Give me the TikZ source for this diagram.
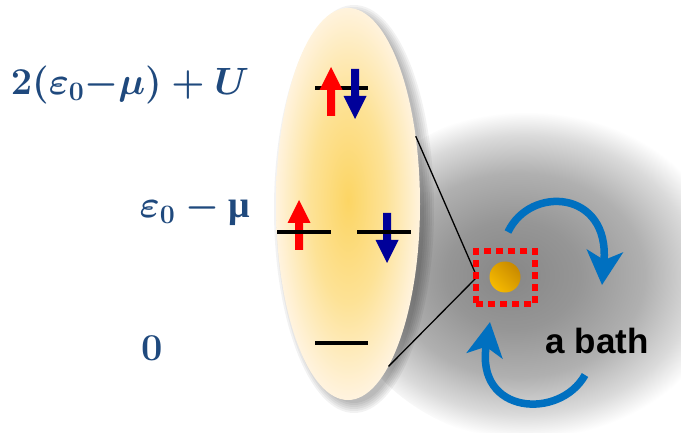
\RequirePackage{fix-cm}
\documentclass[tikz,border=0pt]{standalone}
\usepackage{fontspec}
\setsansfont{Liberation Sans}
\newfontfamily\grfont{Liberation Serif}
\usetikzlibrary{shapes.geometric,arrows.meta}
\definecolor{lbl}{RGB}{31,73,125}
\definecolor{upred}{RGB}{255,0,0}
\definecolor{dnblue}{RGB}{0,0,153}
\definecolor{arcblue}{RGB}{0,112,192}
\definecolor{yc}{RGB}{252,213,100}
\definecolor{ym}{RGB}{253,226,150}
\definecolor{ye}{RGB}{255,243,222}
\definecolor{g0}{RGB}{134,134,134}
\definecolor{g1}{RGB}{150,150,150}
\definecolor{g2}{RGB}{176,176,176}
\definecolor{g3}{RGB}{218,218,218}
\definecolor{ballD}{RGB}{200,138,0}
\definecolor{ballL}{RGB}{246,186,0}
\pgfdeclareradialshading{dotshade}{\pgfpoint{0bp}{0.5bp}}{color(0bp)=(yc); color(13bp)=(ym); color(25bp)=(ye); color(50bp)=(ye)}
\pgfdeclareradialshading{bathshade}{\pgfpoint{-5bp}{0bp}}{color(0bp)=(g0); color(8bp)=(g1); color(15bp)=(g2); color(20.5bp)=(g3); color(24bp)=(white); color(50bp)=(white)}
\newcommand\spinarrow[5]{% color, x, tail, base, tip
  \fill[#1] ({#2-4},#3) -- ({#2-4},#4) -- ({#2-11.5},#4) -- (#2,#5) -- ({#2+11.5},#4) -- ({#2+4},#4) -- ({#2+4},#3) -- cycle;}
\newcommand\lblfont{\fontsize{38}{42}\selectfont\mathversion{bold}}
\begin{document}
\begin{tikzpicture}[x=1pt,y=-1pt,
  lvl/.style={line width=4pt},
  lbltext/.style={text=lbl, font=\lblfont},
  bluearc/.style={arcblue, line width=7.5pt, -{Stealth[length=34pt,width=36pt,inset=9pt]}},
  link/.style={black, line width=1.3pt},
  ]
\useasboundingbox (0,0) rectangle (681,433);
% the bath
\shade[shading=bathshade] (548,275) ellipse [x radius=210pt, y radius=170pt];
% shadow of the dot
\foreach \i in {0,...,5}
  \fill[black, opacity=0.05] (354,209) ellipse [x radius=70pt+2pt*\i, y radius=194pt+2pt*\i];
% the dot
\node[ellipse, minimum width=144pt, minimum height=392pt, inner sep=0pt, shade, shading=dotshade] (dot) at (348,204) {};
% links to the impurity
\coordinate (tip) at (477,277);
\draw[link] (dot.45) -- (tip) -- (dot.-76);
% levels
\draw[lvl] (315,88) -- (368,88);
\spinarrow{upred}{331}{116}{90}{67}
\spinarrow{dnblue}{355}{69}{96}{119}
\spinarrow{upred}{299}{250}{223}{200}
\spinarrow{dnblue}{387}{213}{240}{263}
\draw[lvl] (277,232) -- (331,232);
\draw[lvl] (357,232) -- (411,232);
\draw[lvl] (315,343) -- (368,343);
% labels
\node[lbltext] (lhigh) at (130,85) {$2(\varepsilon_0{-}\mu)+U$};
\node[lbltext] (lmid) at (195,210) {$\varepsilon_0-\hbox{\grfont\bfseries μ}$};
\node[lbltext] (lzero) at (152,348) {\bfseries 0};
% impurity
\node[draw=upred, line width=6pt, dash pattern=on 7pt off 5pt, minimum width=59pt, minimum height=53pt, inner sep=0pt] (box) at (505.5,277.5) {};
\node[circle, minimum size=31pt, inner sep=0pt, shade, top color=ballD, bottom color=ballL, shading angle=-45] (ball) at (505,277) {};
% bath arrows
\coordinate (a1s) at (508,232);
\coordinate (a1e) at (602,285);
\coordinate (a2s) at (585,375);
\coordinate (a2e) at (490,322);
\draw[bluearc] (a1s) .. controls (530,185) and (610,190) .. (a1e);
\draw[bluearc] (a2s) .. controls (560,420) and (475,415) .. (a2e);
\node[font=\sffamily\bfseries\fontsize{35}{40}\selectfont] (bathlbl) at (597,341) {a bath};
\end{tikzpicture}
\end{document}
